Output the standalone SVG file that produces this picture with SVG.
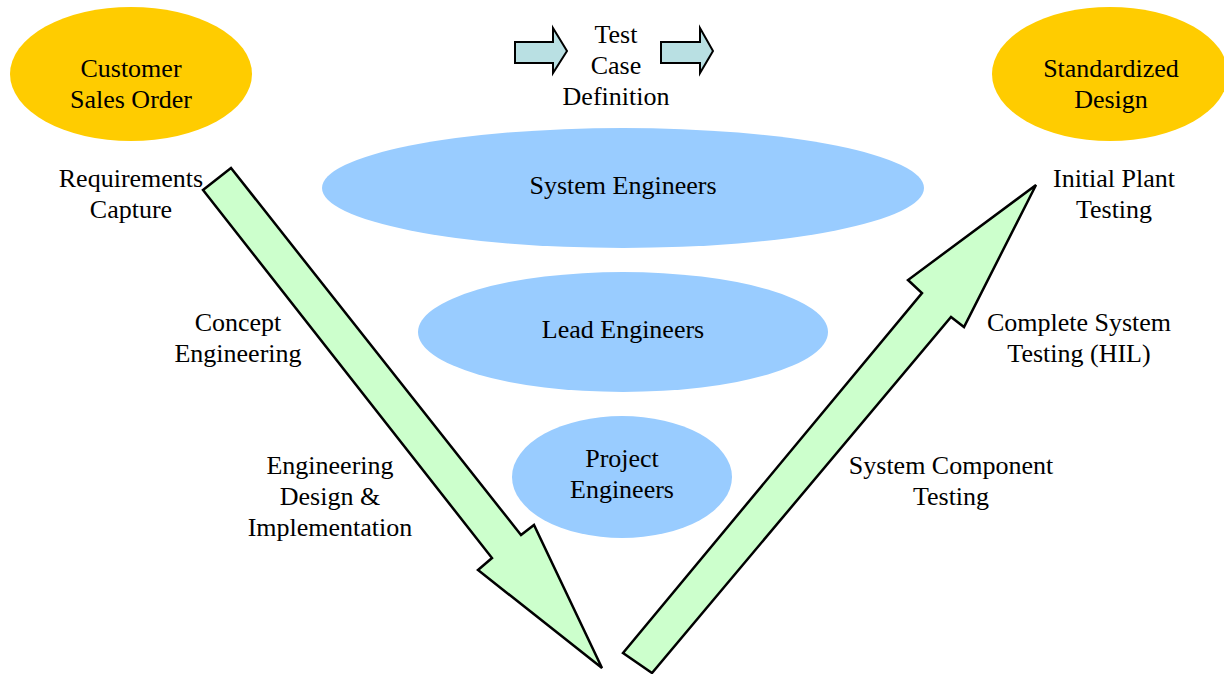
<svg xmlns="http://www.w3.org/2000/svg" width="1224" height="674" viewBox="0 0 1224 674">
<style>
text{font-family:"Liberation Serif","Times New Roman",serif;font-size:26px;fill:#000;text-anchor:middle}
.gold{fill:#FFCC00}
.blue{fill:#99CCFF}
.big{fill:#CCFFCC;stroke:#000;stroke-width:2.5;stroke-linejoin:miter}
.small{fill:#B9E0E3;stroke:#000;stroke-width:2}
</style>
<rect width="1224" height="674" fill="#fff"/>
<g id="connectors">
<polygon class="big" points="203,190 231,168 521,535 534,525 602,668 478,570 492,558"/>
<polygon class="big" points="623,653 922,293 908,280 1036,185 964,327 951,317 652,673"/>
<polygon class="small" points="515,42 553,42 553,28 567,51 553,73 553,63 515,63"/>
<polygon class="small" points="661,42 700,42 700,28 713,51 700,73 700,63 661,63"/>
</g>
<g id="customer">
<ellipse class="gold" cx="131" cy="74" rx="121" ry="67"/>
<text x="131" y="77">Customer</text>
<text x="131" y="108">Sales Order</text>
</g>
<g id="standardized">
<ellipse class="gold" cx="1110" cy="74" rx="118" ry="67"/>
<text x="1111" y="77">Standardized</text>
<text x="1111" y="108">Design</text>
</g>
<g id="testcase">
<text x="616" y="43">Test</text>
<text x="616" y="74">Case</text>
<text x="616" y="105">Definition</text>
</g>
<g id="system">
<ellipse class="blue" cx="623" cy="188" rx="301" ry="60"/>
<text x="623" y="194">System Engineers</text>
</g>
<g id="lead">
<ellipse class="blue" cx="623" cy="332" rx="205" ry="60"/>
<text x="623" y="338">Lead Engineers</text>
</g>
<g id="project">
<ellipse class="blue" cx="622" cy="477" rx="110" ry="61"/>
<text x="622" y="467">Project</text>
<text x="622" y="498">Engineers</text>
</g>
<g id="requirements">
<text x="131" y="187">Requirements</text>
<text x="131" y="218">Capture</text>
</g>
<g id="initial">
<text x="1114" y="187">Initial Plant</text>
<text x="1114" y="218">Testing</text>
</g>
<g id="concept">
<text x="238" y="331">Concept</text>
<text x="238" y="362">Engineering</text>
</g>
<g id="complete">
<text x="1079" y="331">Complete System</text>
<text x="1079" y="362">Testing (HIL)</text>
</g>
<g id="design">
<text x="330" y="474">Engineering</text>
<text x="330" y="505">Design &amp;</text>
<text x="330" y="536">Implementation</text>
</g>
<g id="component">
<text x="951" y="474">System Component</text>
<text x="951" y="505">Testing</text>
</g>
</svg>
